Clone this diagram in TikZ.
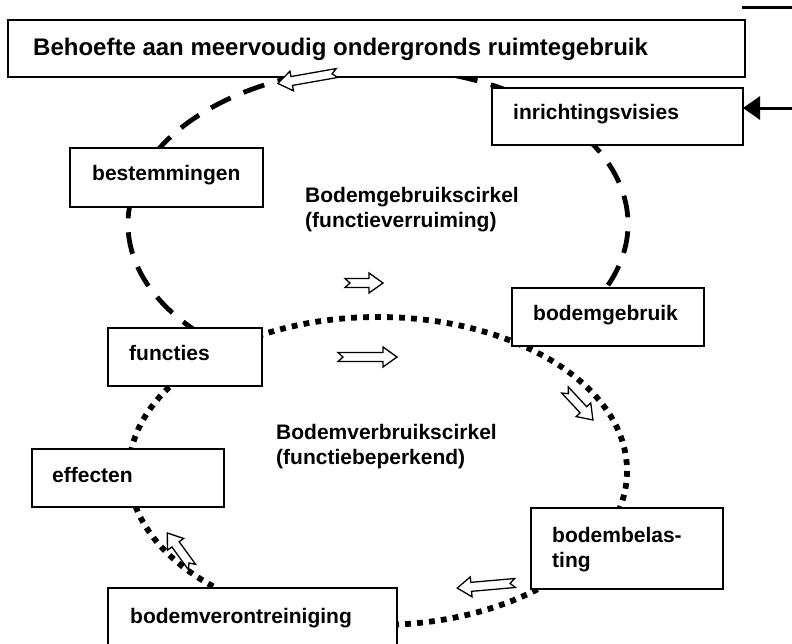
\documentclass[tikz,border=0pt]{standalone}
\usepackage{fontspec}
\setmainfont{Liberation Sans}
\usetikzlibrary{arrows.meta}
\begin{document}
\begin{tikzpicture}[x=1pt,y=-1pt,
  box/.style={draw, line width=1.6pt, fill=white, anchor=north west, inner sep=0pt, outer sep=0pt},
  lbl/.style={anchor=base west, inner sep=0pt, font=\fontsize{21}{25}\selectfont\bfseries, align=left},
  toplbl/.style={anchor=base west, inner sep=0pt, font=\fontsize{24}{28}\selectfont\bfseries},
  dashloop/.style={line width=4.8pt, dash pattern=on 22pt off 14pt},
  dotloop/.style={line width=5.8pt, dash pattern=on 5.8pt off 6.2pt},
  pics/harrow/.style={code={\draw[line width=1.3pt, fill=white, line join=miter]
     (0,-4.5) -- (#1-14,-4.5) -- (#1-14,-10) -- (#1,0) -- (#1-14,10) -- (#1-14,4.5) -- (0,4.5) -- (5,0) -- cycle;}}
]
\clip (0,0) rectangle (792,643);
\fill[white] (0,0) rectangle (792,643);
% loops
\draw[dotloop] (378,471) ellipse [x radius=249, y radius=154];
\draw[dashloop] (378,224) ++(135:250 and 156) arc[start angle=135, end angle=395, x radius=250, y radius=156];
% boxes
\node[box, minimum width=737, minimum height=57] (top) at (8,20) {};
\node[box, minimum width=251, minimum height=57] (inr) at (492,88) {};
\node[box, minimum width=193, minimum height=59] (bes) at (70,148) {};
\node[box, minimum width=192, minimum height=58] (bgb) at (512,288) {};
\node[box, minimum width=154, minimum height=58] (fun) at (108,328) {};
\node[box, minimum width=192, minimum height=58] (eff) at (32,449) {};
\node[box, minimum width=192, minimum height=81] (bbl) at (531,508) {};
\node[box, minimum width=289, minimum height=70] (bvo) at (108,588) {};
% labels
\node[toplbl] (topT) at (33,55) {Behoefte aan meervoudig ondergronds ruimtegebruik};
\node[lbl] (inrT) at (513,119) {inrichtingsvisies};
\node[lbl] (besT) at (92,180) {bestemmingen};
\node[lbl] (bgbT) at (533,320) {bodemgebruik};
\node[lbl] (funT) at (129,360) {functies};
\node[lbl] (effT) at (52,482) {effecten};
\node[lbl] (bblT) at (552,567) {bodembelas-\\ting};
\node[lbl] (bvoT) at (130,623) {bodemverontreiniging};
\node[lbl] (c1T) at (305,227) {Bodemgebruikscirkel\\(functieverruiming)};
\node[lbl] (c2T) at (276,464) {Bodemverbruikscirkel\\(functiebeperkend)};
% outside connectors
\coordinate (tl1) at (742,7);
\coordinate (tl2) at (792,7);
\draw[line width=3pt] (tl1) -- (tl2);
\coordinate (rin) at (792,108);
\draw[line width=3pt, -{Triangle[length=17pt,width=23pt]}] (rin) -- (rin -| inr.east);
% hollow flow arrows
\pic[rotate=190] at (337,73) {harrow=60};
\pic at (345,283) {harrow=38};
\pic at (338,357) {harrow=59};
\pic[rotate=-47] at (565,390) {harrow=41};
\pic[rotate=185] at (515,583) {harrow=58};
\pic[rotate=126] at (192,567) {harrow=42};
\end{tikzpicture}
\end{document}
